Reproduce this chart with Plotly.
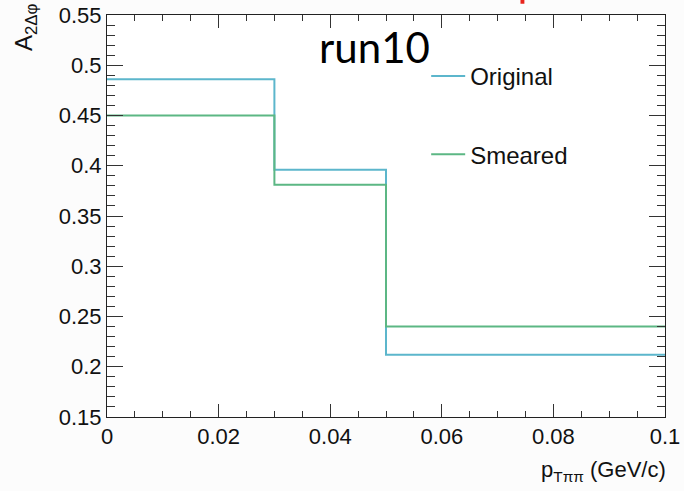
import plotly.graph_objects as go

# Bin edges in p_T(pipi) and the A_2dphi value of each bin
bin_edges = [0.0, 0.03, 0.05, 0.1]
original = [0.486, 0.396, 0.212]
smeared = [0.450, 0.381, 0.240]

x_ticks = [0, 0.02, 0.04, 0.06, 0.08, 0.1]
x_tick_text = ["0", "0.02", "0.04", "0.06", "0.08", "0.1"]
y_ticks = [0.15, 0.2, 0.25, 0.3, 0.35, 0.4, 0.45, 0.5, 0.55]
y_tick_text = ["0.15", "0.2", "0.25", "0.3", "0.35", "0.4", "0.45", "0.5", "0.55"]

COL_ORIG = "#5cb6cc"
COL_SMEAR = "#5cb784"
FONT = "Liberation Sans, Arial, sans-serif"


def step_y(vals):
    # repeat last bin content so the 'hv' step reaches the upper edge
    return list(vals) + [vals[-1]]


fig = go.Figure()
fig.add_trace(go.Scatter(
    x=bin_edges, y=step_y(original), mode="lines", name="Original",
    line=dict(color=COL_ORIG, width=2, shape="hv"), legendgroup="a",
))
fig.add_trace(go.Scatter(
    x=bin_edges, y=step_y(smeared), mode="lines", name="Smeared",
    line=dict(color=COL_SMEAR, width=2, shape="hv"), legendgroup="b",
))

axis_common = dict(
    showgrid=False, zeroline=False, showline=True, linecolor="#222",
    linewidth=1, mirror="ticks", ticks="inside", tickcolor="#333",
    tickwidth=1, automargin=False,
    tickfont=dict(family=FONT, size=22, color="#111"),
)

fig.update_xaxes(
    range=[0, 0.1], tickvals=x_ticks, ticktext=x_tick_text, ticklen=13,
    minor=dict(dtick=0.005, ticks="inside", ticklen=6, tickcolor="#333"),
    **axis_common,
)
fig.update_yaxes(
    range=[0.15, 0.55], tickvals=y_ticks, ticktext=y_tick_text, ticklen=16,
    minor=dict(dtick=0.01, ticks="inside", ticklen=8, tickcolor="#333"),
    **axis_common,
)

fig.add_annotation(
    text="A<sub>2Δφ</sub>", xref="paper", yref="paper",
    x=-0.145, y=1.035, xanchor="center", yanchor="top", textangle=-90,
    showarrow=False, font=dict(family=FONT, size=24, color="#111"),
)
fig.add_annotation(
    text="p<sub>Tππ</sub> (GeV/c)", xref="paper", yref="paper",
    x=1.006, y=-0.135, xanchor="right", yanchor="middle",
    showarrow=False, font=dict(family=FONT, size=22, color="#111"),
)
fig.add_annotation(
    text="run10", xref="paper", yref="paper",
    x=0.48, y=0.92, xanchor="center", yanchor="middle",
    showarrow=False, font=dict(family="Lato, sans-serif", size=42, color="#000"),
)

# small red mark at the top edge
fig.add_shape(type="rect", xref="paper", yref="paper",
              x0=0.741, x1=0.748, y0=1.028, y1=1.04,
              fillcolor="#e8241c", line=dict(width=0), layer="above")

fig.update_layout(
    width=684, height=491,
    margin=dict(l=107, r=19, t=15, b=74),
    paper_bgcolor="#fcfcfc", plot_bgcolor="#ffffff",
    showlegend=True,
    legend=dict(
        x=0.572, y=0.903, xanchor="left", yanchor="top",
        bgcolor="rgba(0,0,0,0)", borderwidth=0,
        font=dict(family=FONT, size=24, color="#111"),
        traceorder="grouped", tracegroupgap=44, itemwidth=34,
    ),
)

fig.write_html("out.html")
